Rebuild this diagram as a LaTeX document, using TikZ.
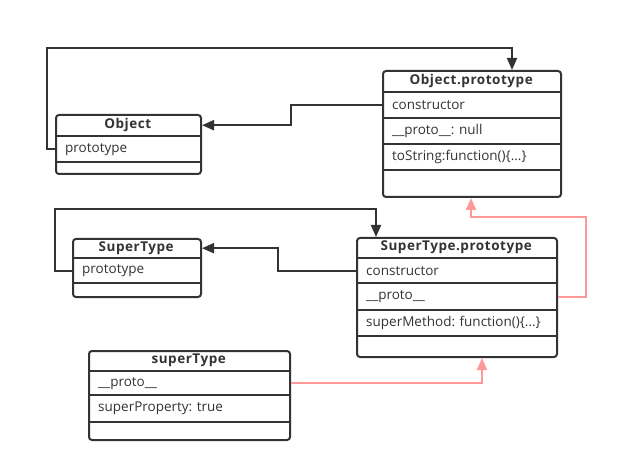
\documentclass[tikz,border=0pt]{standalone}
\usepackage{fontspec}
\setmainfont{Open Sans}
\usetikzlibrary{arrows.meta}
\frenchspacing
\definecolor{ink}{HTML}{333333}
\definecolor{pinkline}{HTML}{FF9999}
\tikzset{
  boxframe/.style={draw=ink, line width=2pt, rounded corners=3pt, anchor=north west, inner sep=0pt},
  rowtext/.style={anchor=north west, inner sep=0pt, minimum height=#1, font=\fontsize{13.5}{15}\selectfont, text=ink},
  titletext/.style={anchor=north west, inner sep=0pt, minimum height=#1, font=\fontsize{13.5}{15}\selectfont\bfseries\addfontfeature{LetterSpace=4}, text=ink},
  divider/.style={draw=ink, line width=2pt},
  conn/.style={draw=ink, line width=2pt, -{Triangle[length=12pt,width=10pt]}},
  pconn/.style={draw=pinkline, line width=2pt, -{Triangle[length=12pt,width=10pt]}},
}
\begin{document}
\begin{tikzpicture}[x=1pt,y=-1pt]
\useasboundingbox (0,0) rectangle (618,470);

% ---------- Object.prototype ----------
\node[boxframe, minimum width=178pt, minimum height=126pt] (op) at (382,70) {};
\node[titletext=22pt, minimum width=178pt] (opt) at (382,70) {Object.prototype};
\node[rowtext=26pt, text width=168pt] (opc) at (392,92) {constructor};
\node[rowtext=26pt, text width=168pt] (opp) at (392,118) {\_\_proto\_\_: null};
\node[rowtext=26pt, text width=168pt] (ops) at (392,144) {toString:function()\{...\}};
\draw[divider] (382,92) -- (560,92);
\draw[divider] (382,118) -- (560,118);
\draw[divider] (382,144) -- (560,144);
\draw[divider] (382,170) -- (560,170);

% ---------- Object ----------
\node[boxframe, minimum width=145pt, minimum height=59pt] (obj) at (55,114) {};
\node[titletext=22pt, minimum width=145pt] (objt) at (55,114) {Object};
\node[rowtext=26pt, text width=135pt] (objp) at (65,136) {prototype};
\draw[divider] (55,136) -- (200,136);
\draw[divider] (55,162) -- (200,162);

% ---------- SuperType ----------
\node[boxframe, minimum width=128pt, minimum height=58pt] (st) at (72,238) {};
\node[titletext=20pt, minimum width=128pt] (stt) at (72,238) {SuperType};
\node[rowtext=25pt, text width=118pt] (stp) at (82,258) {prototype};
\draw[divider] (72,258) -- (200,258);
\draw[divider] (72,283) -- (200,283);

% ---------- SuperType.prototype ----------
\node[boxframe, minimum width=200pt, minimum height=119pt] (sp) at (356,237) {};
\node[titletext=21pt, minimum width=200pt] (spt) at (356,237) {SuperType.prototype};
\node[rowtext=25pt, text width=190pt] (spc) at (366,258) {constructor};
\node[rowtext=27pt, text width=190pt] (spp) at (366,283) {\_\_proto\_\_};
\node[rowtext=26pt, text width=190pt] (spm) at (366,310) {superMethod: function()\{...\}};
\draw[divider] (356,258) -- (556,258);
\draw[divider] (356,283) -- (556,283);
\draw[divider] (356,310) -- (556,310);
\draw[divider] (356,336) -- (556,336);

% ---------- superType ----------
\node[boxframe, minimum width=201pt, minimum height=89pt] (ins) at (88,350) {};
\node[titletext=21pt, minimum width=201pt] (inst) at (88,350) {superType};
\node[rowtext=24pt, text width=191pt] (insp) at (98,371) {\_\_proto\_\_};
\node[rowtext=27pt, text width=191pt] (inss) at (98,395) {superProperty: true};
\draw[divider] (88,371) -- (289,371);
\draw[divider] (88,395) -- (289,395);
\draw[divider] (88,422) -- (289,422);

% ---------- connectors ----------
\coordinate (xa) at (47,0);
\coordinate (ya) at (0,48);
\coordinate (xb) at (512,0);
\draw[conn] (objp.west -| obj.west) -| (xa |- ya) -| (xb |- op.north);

\coordinate (xc) at (291,0);
\draw[conn] (opc.west -| op.west) -| (xc |- objt.east) -- (objt.east -| obj.east);

\coordinate (xd) at (55,0);
\coordinate (yd) at (0,209);
\coordinate (xe) at (376,0);
\draw[conn] (stp.west -| st.west) -| (xd |- yd) -| (xe |- sp.north);

\coordinate (xf) at (278,0);
\draw[conn] (spc.west -| sp.west) -| (xf |- stt.east) -- (stt.east -| st.east);

\coordinate (xg) at (586,0);
\coordinate (yg) at (0,217);
\coordinate (xh) at (471,0);
\draw[pconn] (spp.east -| sp.east) -| (xg |- yg) -| (xh |- op.south);

\coordinate (xi) at (482,0);
\draw[pconn] (insp.east -| ins.east) -| (xi |- sp.south);
\end{tikzpicture}
\end{document}
